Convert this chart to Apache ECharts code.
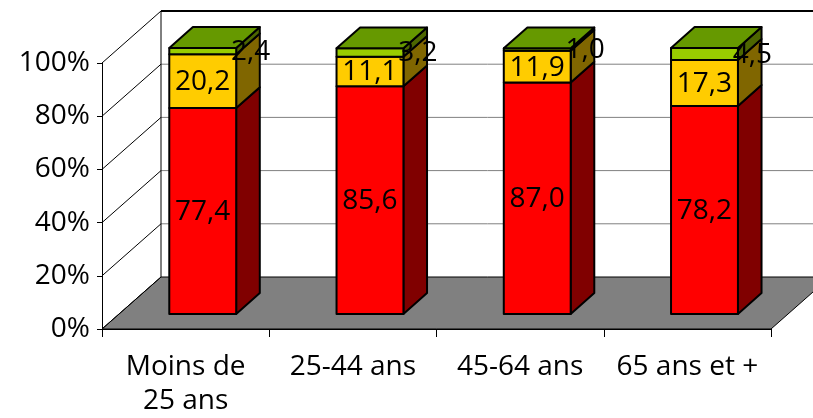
<!DOCTYPE html>
<html>
<head>
<meta charset="utf-8">
<script src="https://cdn.jsdelivr.net/npm/echarts@6/dist/echarts.min.js"></script>
<style>
html,body{margin:0;padding:0;background:#fff;}
#chart{width:813px;height:418px;}
</style>
</head>
<body>
<div id="chart"></div>
<script>
// ---- data ----
const categories = ['Moins de\n25 ans', '25-44 ans', '45-64 ans', '65 ans et +'];
const seriesRed = [77.4, 85.6, 87.0, 78.2];
const seriesYellow = [20.2, 11.1, 11.9, 17.3];
const seriesGreen = [2.4, 3.2, 1.0, 4.5];
const yTicks = [0, 20, 40, 60, 80, 100];

// ---- 3D look (styling only) ----
const DX = 59, DY = -52;          // depth offset of the back wall
const F0 = 0.29, F1 = 0.69;       // bar front / back depth fractions
const BAR_FRAC = 0.4;             // bar width as fraction of band
const FONT = 'Open Sans';

const stacks = [
  {values: seriesRed,    front: '#FF0000', side: '#800000', top: '#CC0000', labelDx: 0, labelDy: 1},
  {values: seriesYellow, front: '#FFCC00', side: '#806600', top: '#CCA300', labelDx: 0, labelDy: 1},
  {values: seriesGreen,  front: '#99CC00', side: '#4D6600', top: '#669900', labelDx: 48, labelDy: 1}
];

function fmt(v) { return v.toFixed(1).replace('.', ','); }

function barRender(si) {
  const st = stacks[si];
  const isTop = si === stacks.length - 1;
  return function (params, api) {
    const idx = api.value(0), lo = api.value(1), hi = api.value(2), val = api.value(3);
    const pb = api.coord([idx, lo]);
    const pt = api.coord([idx, hi]);
    const band = api.size([1, 0])[0];
    const w = band * BAR_FRAC;
    const ddx = DX * (F1 - F0), ddy = DY * (F1 - F0);
    const x0 = pb[0] - w / 2 + DX * F0;
    const yb = pb[1] + DY * F0;
    const yt = pt[1] + DY * F0;
    const stroke = {stroke: '#000', lineWidth: 2, lineJoin: 'round'};
    const children = [
      {type: 'polygon', shape: {points: [[x0 + w, yb], [x0 + w + ddx, yb + ddy], [x0 + w + ddx, yt + ddy], [x0 + w, yt]]},
       style: Object.assign({fill: st.side}, stroke)},
      {type: 'rect', shape: {x: x0, y: yt, width: w, height: yb - yt},
       style: Object.assign({fill: st.front}, stroke)}
    ];
    if (isTop) {
      children.push({type: 'polygon', shape: {points: [[x0, yt], [x0 + w, yt], [x0 + w + ddx, yt + ddy], [x0 + ddx, yt + ddy]]},
        style: Object.assign({fill: st.top}, stroke)});
    }
    children.push({type: 'text', z2: 10,
      style: {text: fmt(val), x: x0 + w / 2 + st.labelDx, y: (yb + yt) / 2 + st.labelDy,
        align: 'center', verticalAlign: 'middle', font: '28px "' + FONT + '"', fill: '#000'}});
    return {type: 'group', children: children};
  };
}

function frameRender(params, api) {
  const cs = params.coordSys;
  const x = cs.x, y = cs.y, w = cs.width, h = cs.height;
  const children = [];
  // back wall
  children.push({type: 'rect', shape: {x: x + DX, y: y + DY, width: w + 40, height: h},
    style: {fill: '#fff', stroke: null}});
  // floor
  children.push({type: 'polygon', shape: {points: [[x, y + h], [x + w, y + h], [x + w + DX, y + h + DY], [x + DX, y + h + DY]]},
    style: {fill: '#808080', stroke: '#000', lineWidth: 1}});
  yTicks.forEach(function (v) {
    const py = api.coord([0, v])[1];
    // side wall diagonal
    children.push({type: 'line', shape: {x1: x, y1: py, x2: x + DX, y2: py + DY},
      style: {stroke: '#000', lineWidth: 1}});
    if (v > 0) {
      children.push({type: 'line', shape: {x1: x + DX, y1: py + DY, x2: x + w + DX + 40, y2: py + DY},
        style: {stroke: v === 100 ? '#000' : '#808080', lineWidth: v === 100 ? 2 : 1}});
    }
  });
  // back wall left edge
  children.push({type: 'line', shape: {x1: x + DX, y1: y + DY, x2: x + DX, y2: y + h + DY},
    style: {stroke: '#000', lineWidth: 1}});
  return {type: 'group', children: children};
}

const barSeries = stacks.map(function (st, si) {
  const data = st.values.map(function (v, i) {
    let lo = 0;
    for (let k = 0; k < si; k++) lo += stacks[k].values[i];
    return [i, lo, lo + v, v];
  });
  return {type: 'custom', name: 's' + si, renderItem: barRender(si), data: data,
    encode: {x: 0, y: [1, 2]}, z: 3 + si, clip: false, silent: true};
});

const chart = echarts.init(document.getElementById('chart'), null, {renderer: 'canvas'});
chart.setOption({
  animation: false,
  backgroundColor: '#fff',
  grid: {left: 102, right: 42, top: 63, bottom: 87},
  xAxis: {
    type: 'category', data: categories,
    axisLine: {show: true, lineStyle: {color: '#000', width: 1}},
    axisTick: {show: true, length: 8, lineStyle: {color: '#000'}},
    axisLabel: {fontFamily: FONT, fontSize: 28, color: '#000', margin: 21, lineHeight: 34, interval: 0},
    z: 20
  },
  yAxis: {
    type: 'value', min: yTicks[0], max: yTicks[yTicks.length - 1], interval: 20,
    axisLine: {show: true, lineStyle: {color: '#000', width: 1}},
    axisTick: {show: true, length: 5, lineStyle: {color: '#000'}},
    axisLabel: {fontFamily: FONT, fontSize: 28, color: '#000', margin: 12, formatter: '{value}%'},
    splitLine: {show: false},
    z: 20
  },
  series: [{type: 'custom', name: 'frame', renderItem: frameRender, data: [[0, 0]],
    encode: {x: 0, y: 1}, z: 1, clip: false, silent: true}].concat(barSeries)
});
</script>
</body>
</html>
